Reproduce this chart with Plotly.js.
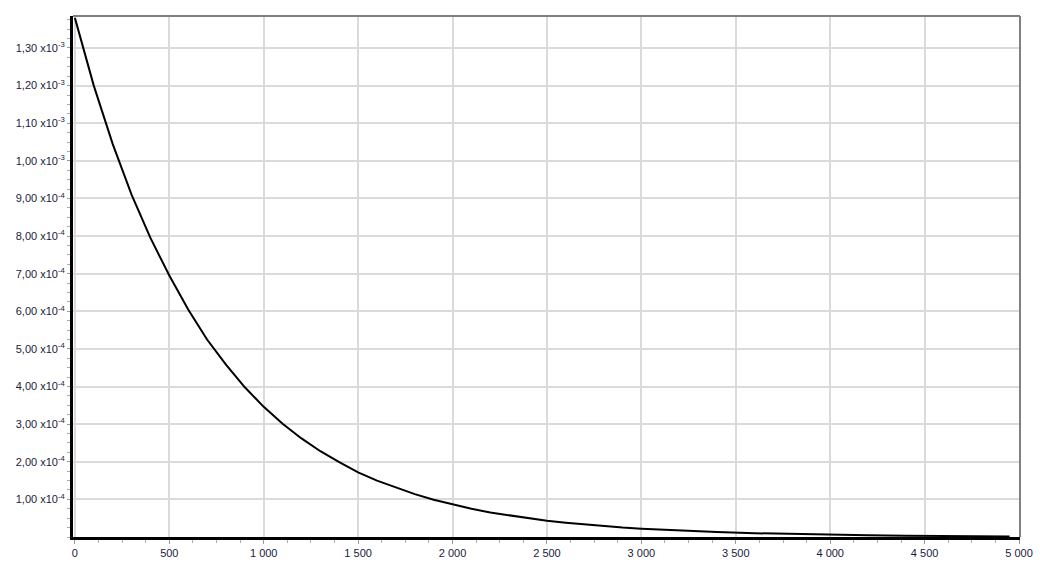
<!DOCTYPE html>
<html>
<head>
<meta charset="utf-8">
<script src="https://cdn.plot.ly/plotly-3.0.1.min.js"></script>
<style>html,body{margin:0;padding:0;background:#fff;}#chart{width:1040px;height:563px;}</style>
</head>
<body>
<div id="chart"></div>
<script>
// Curve samples (x, y)
const xValues = [0, 100, 200, 300, 400, 500, 600, 700, 800, 900, 1000, 1100, 1200, 1300, 1400, 1500, 1600, 1700, 1800, 1900, 2000, 2100, 2200, 2300, 2400, 2500, 2600, 2700, 2800, 2900, 3000, 3200, 3400, 3600, 3800, 4000, 4200, 4400, 4600, 4800, 4950];
const yValues = [1.38e-3, 1.20e-3, 1.045e-3, 0.91e-3, 0.795e-3, 0.695e-3, 0.605e-3, 0.525e-3, 0.458e-3, 0.398e-3, 0.346e-3, 0.301e-3, 0.262e-3, 0.228e-3, 0.199e-3, 0.172e-3, 0.150e-3, 0.131e-3, 0.114e-3, 0.099e-3, 0.086e-3, 0.075e-3, 0.065e-3, 0.057e-3, 0.050e-3, 0.043e-3, 0.038e-3, 0.033e-3, 0.029e-3, 0.025e-3, 0.022e-3, 0.017e-3, 0.013e-3, 0.010e-3, 0.0075e-3, 0.0058e-3, 0.0045e-3, 0.0034e-3, 0.0026e-3, 0.0020e-3, 0.0016e-3];

const xTickVals = [0, 500, 1000, 1500, 2000, 2500, 3000, 3500, 4000, 4500, 5000];
const xTickText = ['0', '500', '1 000', '1 500', '2 000', '2 500', '3 000', '3 500', '4 000', '4 500', '5 000'];
const yTickVals = [1e-4, 2e-4, 3e-4, 4e-4, 5e-4, 6e-4, 7e-4, 8e-4, 9e-4, 1.0e-3, 1.1e-3, 1.2e-3, 1.3e-3];
const yTickText = ['1,00 x10<sup>-4</sup>', '2,00 x10<sup>-4</sup>', '3,00 x10<sup>-4</sup>', '4,00 x10<sup>-4</sup>', '5,00 x10<sup>-4</sup>', '6,00 x10<sup>-4</sup>', '7,00 x10<sup>-4</sup>', '8,00 x10<sup>-4</sup>', '9,00 x10<sup>-4</sup>', '1,00 x10<sup>-3</sup>', '1,10 x10<sup>-3</sup>', '1,20 x10<sup>-3</sup>', '1,30 x10<sup>-3</sup>'];

const trace = {
  x: xValues, y: yValues, type: 'scatter', mode: 'lines',
  line: {color: '#000000', width: 2}, hoverinfo: 'skip'
};

const layout = {
  width: 1040, height: 563,
  margin: {l: 73, r: 20, t: 16, b: 26},
  paper_bgcolor: '#ffffff', plot_bgcolor: '#ffffff',
  showlegend: false,
  font: {family: 'Liberation Sans, Arial, sans-serif', size: 11, color: '#1a1a33'},
  xaxis: {
    range: [-10, 5005], tickvals: xTickVals, ticktext: xTickText,
    showgrid: true, gridcolor: '#dadada', gridwidth: 2,
    zeroline: false, showline: true, linecolor: '#000000', linewidth: 3,
    ticks: 'outside', ticklen: 4, tickcolor: '#999999', tickwidth: 1,
    minor: {dtick: 125, tick0: 0, ticks: 'outside', ticklen: 3, tickcolor: '#aaaaaa', showgrid: false},
    tickfont: {size: 11, color: '#1a1a40'}
  },
  yaxis: {
    range: [0, 1.385e-3], tickvals: yTickVals, ticktext: yTickText,
    showgrid: true, gridcolor: '#dadada', gridwidth: 2,
    zeroline: false, showline: true, linecolor: '#000000', linewidth: 3,
    ticks: 'outside', ticklen: 3, tickcolor: '#999999', tickwidth: 1,
    minor: {dtick: 0.25e-4, tick0: 0, ticks: 'outside', ticklen: 3, tickcolor: '#aaaaaa', showgrid: false},
    tickfont: {size: 11, color: '#1a1a40'}
  },
  shapes: [
    {type: 'line', xref: 'paper', yref: 'paper', x0: 0, x1: 1, y0: 1, y1: 1, line: {color: '#808080', width: 2}},
    {type: 'line', xref: 'paper', yref: 'paper', x0: 1, x1: 1, y0: 0, y1: 1, line: {color: '#808080', width: 2}}
  ]
};

Plotly.newPlot('chart', [trace], layout, {displayModeBar: false, staticPlot: true});
</script>
</body>
</html>
